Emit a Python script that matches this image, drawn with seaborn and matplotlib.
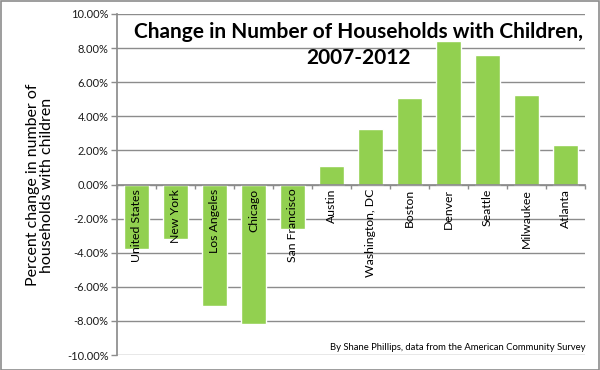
import matplotlib
matplotlib.use("Agg")
import matplotlib.pyplot as plt
import seaborn as sns
import pandas as pd
import numpy as np
from matplotlib.ticker import FuncFormatter, FixedLocator
from matplotlib.patches import Rectangle

cities = ["United States", "New York", "Los Angeles", "Chicago", "San Francisco",
          "Austin", "Washington, DC", "Boston", "Denver", "Seattle", "Milwaukee", "Atlanta"]
pct_change = [-3.77, -3.2, -7.1, -8.2, -2.62, 1.08, 3.28, 5.08, 8.4, 7.6, 5.22, 2.3]

title_text = "Change in Number of Households with Children,\n2007-2012"
ylabel_text = "Percent change in number of\nhouseholds with children"
credit_text = "By Shane Phillips, data from the American Community Survey"

sns.set_theme(style="white")
plt.rcParams['font.family'] = ['Lato', 'DejaVu Sans']

df = pd.DataFrame({"city": cities, "pct": pct_change})

fig = plt.figure(figsize=(6, 3.7), dpi=100)
ax = fig.add_axes([117/600, 1 - 355/370, (585-117)/600, (355-14)/370])

sns.barplot(data=df, x="city", y="pct", color="#92D050", width=0.66,
            saturation=1, ax=ax, zorder=2)

ax.set_ylim(-10, 10)
ax.set_xlim(-0.5, len(cities) - 0.5)
ax.set_yticks(np.arange(-10, 10.1, 2))
ax.yaxis.set_major_formatter(FuncFormatter(lambda v, p: f"{v:.2f}%"))
ax.set_axisbelow(True)
ax.yaxis.grid(True, color="#8c8c8c", linewidth=1)
ax.xaxis.grid(False)

for s in ["top", "right"]:
    ax.spines[s].set_visible(False)
ax.spines["left"].set_color("#8c8c8c")
ax.spines["bottom"].set_color("#8c8c8c")
ax.spines["bottom"].set_position(("data", 0))
ax.spines["bottom"].set_zorder(3)

ax.tick_params(axis="y", which="major", direction="out", length=4, color="#8c8c8c",
               width=1, labelsize=8, labelcolor="#1a1a1a", pad=2, left=True)
ax.tick_params(axis="x", which="major", length=0, labelsize=8.8, labelcolor="#000000",
               pad=3, labelrotation=90, bottom=True)
ax.xaxis.set_minor_locator(FixedLocator(np.arange(-0.5, len(cities), 1)))
ax.tick_params(axis="x", which="minor", direction="out", length=3, color="#8c8c8c",
               width=1, bottom=True)
for lab in ax.get_xticklabels():
    lab.set_verticalalignment("top")
ax.xaxis.set_zorder(3)

ax.set_xlabel("")
ax.set_ylabel("")
fig.text(40/600, 1 - 185/370, ylabel_text, rotation=90, ha="center", va="center",
         fontsize=11.5, color="#000000", linespacing=1.0)

ax.text(0.517, 0.978, title_text, transform=ax.transAxes, ha="center", va="top",
        fontsize=15, fontweight="bold", color="#000000", linespacing=1.4)

fig.text(586/600, 1 - 348/370, credit_text, ha="right", va="center",
         fontsize=6.8, color="#000000")

fig.patches.append(Rectangle((0.001, 0.001), 0.997, 0.996, transform=fig.transFigure,
                             fill=False, edgecolor="#8c8c8c", linewidth=1.2))

fig.savefig("out.png", dpi=100)
